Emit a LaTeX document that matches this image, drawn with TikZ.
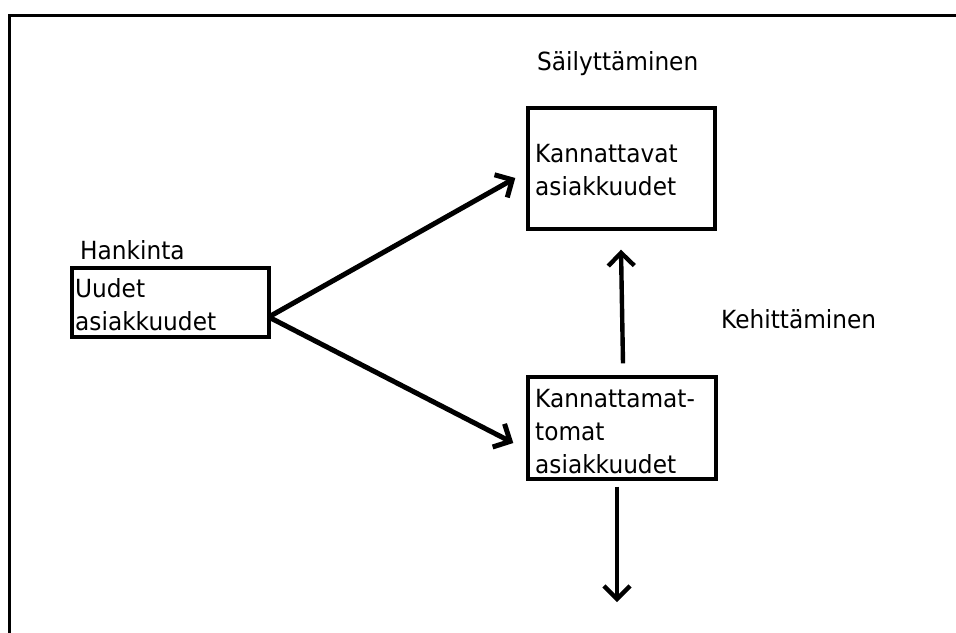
\documentclass[tikz,border=0pt]{standalone}
\usepackage{fontspec}
\setmainfont{DejaVu Sans}[FakeStretch=0.93]
\usetikzlibrary{arrows.meta}
\begin{document}
\begin{tikzpicture}[x=1pt,y=1pt,
  box/.style={draw=black, line width=3.4pt, minimum width=#1, inner sep=0pt},
  txt/.style={anchor=base west, inner sep=0pt, text width=190pt, align=left,
    font=\fontsize{25}{33}\selectfont},
  lbl/.style={anchor=base west, inner sep=0pt, font=\fontsize{25}{33}\selectfont},
  arr/.style={line width=5pt, -{Straight Barb[length=13pt,width=26pt]}}]
\useasboundingbox (0,0) rectangle (956,-632);
\fill[white] (0,0) rectangle (956,-632);
% frame (only top and left visible)
\draw[line width=3.8pt] (9.5,-640) -- (9.5,-15.5) -- (965,-15.5);
% boxes
\node[box=197pt, minimum height=69pt] (b1) at (170.5,-302.5) {};
\node[box=187pt, minimum height=121pt] (b2) at (621.5,-168.5) {};
\node[box=188pt, minimum height=102pt] (b3) at (622,-428) {};
% texts in boxes
\node[txt] (t1) at (75,-297) {Uudet\\asiakkuudet};
\node[txt] (t2) at (535,-162) {Kannattavat\\asiakkuudet};
\node[txt] (t3) at (535,-407) {Kannattamat-\\tomat\\asiakkuudet};
% labels
\node[lbl] (l1) at (80,-259) {Hankinta};
\node[lbl] (l2) at (537,-70) {Säilyttäminen};
\node[lbl] (l3) at (721,-328) {Kehittäminen};
% arrows
\draw[arr] ([shift={(-2pt,-14.5pt)}]b1.east) -- ([shift={(-11pt,-9.5pt)}]b2.west);
\draw[arr] ([shift={(-2pt,-14.5pt)}]b1.east) -- ([shift={(-13pt,-15pt)}]b3.west);
\draw[arr, line width=4.4pt] ([shift={(1pt,12pt)}]b3.north) -- ([shift={(-0.5pt,-19pt)}]b2.south);
\coordinate (out) at (617,-602);
\draw[arr, line width=4.4pt] ([shift={(-5pt,-6pt)}]b3.south) -- (out);
\end{tikzpicture}
\end{document}
